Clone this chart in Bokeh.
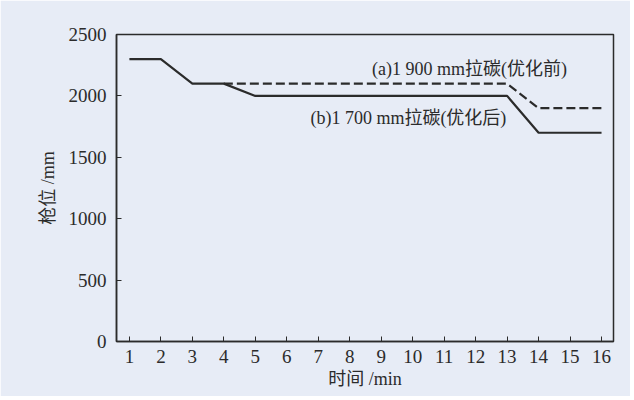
from bokeh.plotting import figure
from bokeh.models import Range1d, FixedTicker, Label
from bokeh.embed import file_html
from bokeh.resources import INLINE

time_min = [1, 2, 3, 4, 5, 6, 7, 8, 9, 10, 11, 12, 13, 14, 15, 16]
before_a = [2300, 2300, 2100, 2100, 2100, 2100, 2100, 2100, 2100, 2100, 2100, 2100, 2100, 1900, 1900, 1900]
after_b = [2300, 2300, 2100, 2100, 2000, 2000, 2000, 2000, 2000, 2000, 2000, 2000, 2000, 1700, 1700, 1700]
y_ticks = [0, 500, 1000, 1500, 2000, 2500]
label_a = "(a)1 900 mm拉碳(优化前)"
label_b = "(b)1 700 mm拉碳(优化后)"

BG = "#e7ecf6"
INK = "#2b2b2b"
FONT = "Liberation Serif, Noto Sans CJK SC"

p = figure(width=630, height=396, output_backend="svg", toolbar_location=None,
           x_range=Range1d(0.59, 16.38), y_range=Range1d(0, 2500),
           min_border_left=116, min_border_right=17, min_border_top=34, min_border_bottom=55)
p.background_fill_color = BG
p.border_fill_color = BG
p.outline_line_color = INK
p.outline_line_width = 1.5
p.xgrid.visible = False
p.ygrid.visible = False

p.line(time_min, after_b, line_color=INK, line_width=2.2)
p.line(time_min[3:], before_a[3:], line_color=INK, line_width=2.2, line_dash="9 4")

for ax in (p.xaxis[0], p.yaxis[0]):
    ax.axis_line_color = INK
    ax.axis_line_width = 1.5
    ax.major_tick_line_color = INK
    ax.major_tick_in = 5
    ax.major_tick_out = 0
    ax.minor_tick_line_color = None
    ax.major_label_text_font = FONT
    ax.major_label_text_font_size = "19px"
    ax.major_label_text_color = INK
    ax.axis_label_text_font = FONT
    ax.axis_label_text_font_size = "18px"
    ax.axis_label_text_font_style = "normal"
    ax.axis_label_text_color = INK

p.xaxis.ticker = FixedTicker(ticks=time_min)
p.yaxis.ticker = FixedTicker(ticks=y_ticks)
p.xaxis.axis_label = "时间 /min"
p.yaxis.axis_label = "枪位 /mm"
p.xaxis.major_label_standoff = 8
p.yaxis.major_label_standoff = 10
p.xaxis.axis_label_standoff = 3
p.yaxis.axis_label_standoff = 8

p.add_layout(Label(x=8.71, y=2223, text=label_a, text_font=FONT, text_font_size="18px",
                   text_color=INK, text_align="left", text_baseline="middle"))
p.add_layout(Label(x=6.75, y=1816, text=label_b, text_font=FONT, text_font_size="18px",
                   text_color=INK, text_align="left", text_baseline="middle"))

open("out.html", "w").write(file_html(p, INLINE))
